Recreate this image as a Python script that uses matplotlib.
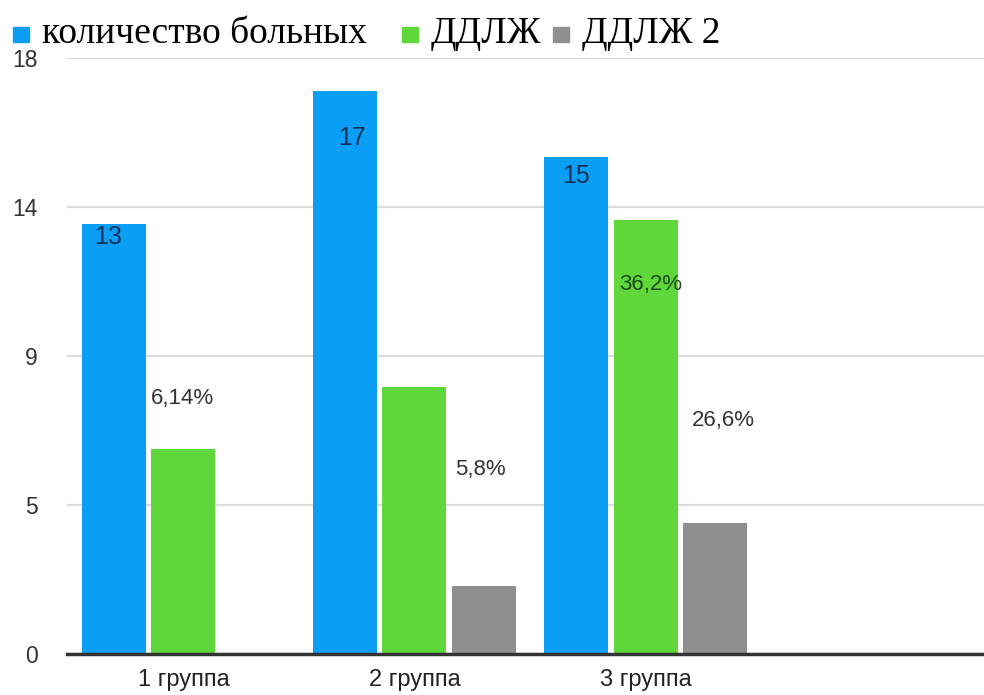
import numpy as np
import matplotlib.pyplot as plt
from matplotlib.patches import Rectangle

# data
groups = ['1 группа', '2 группа', '3 группа']
patients = [13, 17, 15]
ddlzh = [6.2, 8.05, 13.1]
ddlzh2 = [0, 2.05, 3.95]
patient_labels = ['13', '17', '15']
pct_labels = ['6,14%', '5,8%', '36,2%', '26,6%']
yticks = [0, 4.5, 9, 13.5, 18]
ytick_labels = ['0', '5', '9', '14', '18']
legend_labels = ['количество больных', 'ДДЛЖ', 'ДДЛЖ 2']

BLUE = '#0a9ff5'
GREEN = '#5fd63a'
GREY = '#8f8f8f'
W, H = 984, 695

plt.rcParams['font.family'] = ['Liberation Sans', 'DejaVu Sans']

fig = plt.figure(figsize=(W / 100, H / 100), dpi=100)
ax = fig.add_axes([67 / W, 41 / H, 1 - 67 / W, (654 - 58) / H])

x = np.arange(len(groups))
off = 0.301
bw = 0.277
b1 = ax.bar(x - off, patients, bw, color=BLUE, zorder=3)
b2 = ax.bar(x, ddlzh, bw, color=GREEN, zorder=3)
b3 = ax.bar(x + off, ddlzh2, bw, color=GREY, zorder=3)

ax.set_xlim(-0.504, 3.465)
ax.set_ylim(0, 18)
ax.set_yticks(yticks)
ax.set_yticklabels(ytick_labels)
ax.set_xticks(x)
ax.set_xticklabels(groups)
ax.tick_params(axis='y', length=0, pad=21, labelsize=16.5, labelcolor='#333333')
ax.tick_params(axis='x', length=0, pad=11, labelsize=17, labelcolor='#222222')
ax.grid(axis='y', color='#dcdcdc', linewidth=1.6, zorder=0)
for s in ['top', 'right', 'left']:
    ax.spines[s].set_visible(False)
ax.spines['bottom'].set_color('#333333')
ax.spines['bottom'].set_linewidth(2.5)
ax.spines['bottom'].set_zorder(4)

# numbers inside the blue bars (offsets in pixels from bar top centre)
num_off = [(-6, -13), (7, -47), (0, -19)]
for rect, lab, (dx, dy) in zip(b1, patient_labels, num_off):
    ax.annotate(lab, (rect.get_x() + rect.get_width() / 2, rect.get_height()),
                xytext=(dx, dy), textcoords='offset pixels', ha='center', va='center',
                fontsize=18, color='#10305a', zorder=5)

# percentage labels attached to the green / grey bars
pct_at = [(b2[0], -1, 50, '#333333'), (b3[1], -4, 117, '#333333'),
          (b2[2], 5, -64, '#1d4a1d'), (b3[2], 8, 103, '#333333')]
for lab, (rect, dx, dy, c) in zip(pct_labels, pct_at):
    ax.annotate(lab, (rect.get_x() + rect.get_width() / 2, rect.get_height()),
                xytext=(dx, dy), textcoords='offset pixels', ha='center', va='center',
                fontsize=16, color=c, zorder=5)

# legend along the top, serif like the original
leg_x = [13, 402, 553]
for lab, c, lx in zip(legend_labels, [BLUE, GREEN, GREY], leg_x):
    fig.patches.append(Rectangle((lx / W, 1 - 42 / H), 16 / W, 15 / H,
                                 transform=fig.transFigure, color=c, figure=fig))
    fig.text((lx + 29) / W, 1 - 43 / H, lab, fontsize=27, va='baseline',
             family=['Liberation Serif', 'DejaVu Serif'], color='black')

fig.savefig('out.png', dpi=100, facecolor='white')
